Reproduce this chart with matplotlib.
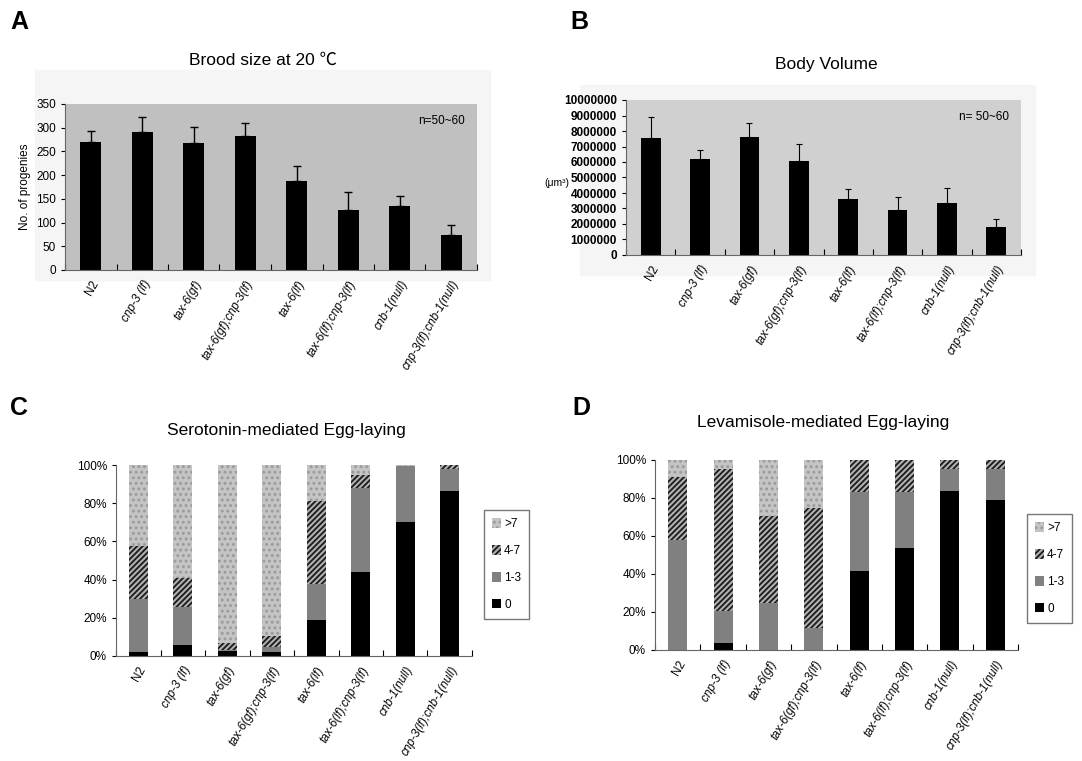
import numpy as np
import matplotlib
matplotlib.use('Agg')
import matplotlib.pyplot as plt
from matplotlib.patches import Rectangle

plt.rcParams['font.family'] = ['Liberation Sans', 'DejaVu Sans']
plt.rcParams['hatch.linewidth'] = 1.3

W, H = 1082, 761

strains = ['N2', 'cnp-3 (lf)', 'tax-6(gf)', 'tax-6(gf);cnp-3(lf)', 'tax-6(lf)',
           'tax-6(lf);cnp-3(lf)', 'cnb-1(null)', 'cnp-3(lf);cnb-1(null)']

# A: brood size
brood = [270, 292, 268, 282, 187, 127, 134, 74]
brood_err = [23, 31, 33, 27, 33, 38, 23, 20]

# B: body volume (um^3)
volume = [7530000, 6200000, 7640000, 6050000, 3600000, 2880000, 3370000, 1820000]
volume_err = [1400000, 600000, 900000, 1100000, 690000, 830000, 960000, 500000]

# C: serotonin egg laying, fraction (%) per class
sero_0 = [2.0, 5.6, 2.8, 2.0, 19.0, 44.0, 70.4, 86.3]
sero_13 = [27.6, 20.3, 0.5, 2.9, 18.6, 43.7, 28.9, 11.4]
sero_47 = [28.1, 15.1, 3.7, 5.7, 43.4, 7.3, 0.4, 2.3]
sero_gt7 = [42.3, 59.0, 93.0, 89.4, 19.0, 5.0, 0.3, 0.0]

# D: levamisole egg laying
leva_0 = [0.0, 3.9, 0.0, 0.0, 41.6, 53.9, 83.5, 79.0]
leva_13 = [57.9, 16.8, 24.9, 11.8, 41.7, 29.4, 11.9, 16.4]
leva_47 = [33.1, 74.7, 45.5, 62.9, 16.7, 16.7, 4.6, 4.6]
leva_gt7 = [9.0, 4.6, 29.6, 25.3, 0.0, 0.0, 0.0, 0.0]

fig = plt.figure(figsize=(W / 100, H / 100), dpi=100)


def px_axes(l, t, r, b):
    return fig.add_axes([l / W, 1 - b / H, (r - l) / W, (b - t) / H])


def setup_x(ax):
    x = np.arange(len(strains))
    ax.set_xlim(-0.5, len(strains) - 0.5)
    ax.set_xticks(x)
    ax.set_xticklabels(strains, rotation=60, ha='right', rotation_mode='anchor',
                       fontsize=8.5)
    for lab in ax.get_xticklabels()[1:]:
        lab.set_style('italic')
    ax.tick_params(axis='x', length=0, pad=6)
    ax.set_xticks(np.arange(len(strains) + 1) - 0.5, minor=True)
    ax.tick_params(axis='x', which='minor', direction='in', length=4, width=0.8)
    for s in ['top', 'right']:
        ax.spines[s].set_visible(False)
    ax.spines['left'].set_color('#666666')
    ax.spines['bottom'].set_color('#666666')
    return x


# faint outer chart areas for A and B
fig.patches.append(Rectangle((35 / W, 1 - 280 / H), 455 / W, 210 / H,
                             transform=fig.transFigure, color='#f5f5f5', zorder=-5))
fig.patches.append(Rectangle((580 / W, 1 - 275 / H), 455 / W, 190 / H,
                             transform=fig.transFigure, color='#f5f5f5', zorder=-5))

# ---- A
axA = px_axes(65, 104, 477, 270)
x = setup_x(axA)
axA.set_facecolor('#c0c0c0')
axA.bar(x, brood, width=0.4, color='black', zorder=2)
axA.errorbar(x, brood, yerr=[np.zeros(8), brood_err], fmt='none', ecolor='black',
             elinewidth=1, capsize=3, capthick=1, zorder=3)
axA.set_ylim(0, 350)
axA.set_yticks(range(0, 351, 50))
axA.tick_params(axis='y', labelsize=8.5, length=3)
axA.set_ylabel('No. of progenies', fontsize=8.5, labelpad=4)
axA.text(0.97, 0.9, 'n=50~60', transform=axA.transAxes, ha='right', va='center',
         fontsize=8.5)
fig.text(263 / W, 1 - 60 / H, 'Brood size at 20 \u2103', ha='center', va='center',
         fontsize=12.5, family=['Liberation Sans', 'Noto Sans CJK SC'])

# ---- B
axB = px_axes(626, 100, 1021, 255)
x = setup_x(axB)
axB.set_facecolor('#d0d0d0')
axB.bar(x, volume, width=0.4, color='black', zorder=2)
axB.errorbar(x, volume, yerr=[np.zeros(8), volume_err], fmt='none', ecolor='black',
             elinewidth=0.8, capsize=2, capthick=0.8, zorder=3)
axB.set_ylim(0, 10000000)
axB.set_yticks(range(0, 10000001, 1000000))
axB.set_yticklabels([str(v) for v in range(0, 10000001, 1000000)])
axB.tick_params(axis='y', labelsize=8.5, length=3)
for lab in axB.get_yticklabels():
    lab.set_fontweight('bold')
axB.text(0.97, 0.89, 'n= 50~60', transform=axB.transAxes, ha='right', va='center',
         fontsize=8.5)
fig.text(557 / W, 1 - 183 / H, '(\u03bcm\u00b3)', ha='center', va='center', fontsize=7.5)
fig.text(826 / W, 1 - 65 / H, 'Body Volume', ha='center', va='center', fontsize=12.5)

# ---- C and D stacked bars
styles = [
    dict(color='black', label='0'),
    dict(color='#808080', label='1-3'),
    dict(facecolor='#b0b0b0', edgecolor='#1a1a1a', hatch='//////', linewidth=0,
         label='4-7'),
    dict(facecolor='#c4c4c4', edgecolor='#9a9a9a', hatch='...', linewidth=0,
         label='>7'),
]


def stacked(ax, series):
    x = setup_x(ax)
    bottom = np.zeros(len(strains))
    handles = []
    for vals, st in zip(series, styles):
        h = ax.bar(x, vals, bottom=bottom, width=0.42, zorder=2, **st)
        handles.append(h)
        bottom = bottom + np.array(vals)
    ax.set_ylim(0, 100)
    ax.set_yticks(range(0, 101, 20))
    ax.set_yticklabels([f'{v}%' for v in range(0, 101, 20)])
    ax.tick_params(axis='y', labelsize=8.5, length=3)
    return handles


leg_kw = dict(loc='upper left', fontsize=8.5, frameon=True, fancybox=False,
              edgecolor='#555555', handlelength=0.7, handleheight=0.9,
              handletextpad=0.3, labelspacing=1.25, borderpad=0.7,
              borderaxespad=0)

axC = px_axes(116, 465, 472, 656)
hC = stacked(axC, [sero_0, sero_13, sero_47, sero_gt7])
fig.text(286 / W, 1 - 430 / H, 'Serotonin-mediated Egg-laying', ha='center',
         va='center', fontsize=12.5)
legC = fig.legend(hC[::-1], [s['label'] for s in styles[::-1]],
                  bbox_to_anchor=(484 / W, 1 - 510 / H), **leg_kw)

axD = px_axes(655, 460, 1018, 650)
hD = stacked(axD, [leva_0, leva_13, leva_47, leva_gt7])
fig.text(823 / W, 1 - 423 / H, 'Levamisole-mediated Egg-laying', ha='center',
         va='center', fontsize=12.5)
legD = fig.legend(hD[::-1], [s['label'] for s in styles[::-1]],
                  bbox_to_anchor=(1027 / W, 1 - 514 / H), **leg_kw)

# panel letters
for lx, ly, s in [(10, 22, 'A'), (570, 22, 'B'), (10, 408, 'C'), (572, 408, 'D')]:
    fig.text(lx / W, 1 - ly / H, s, fontsize=18, fontweight='bold', va='center')

fig.savefig('out.png', dpi=100)
